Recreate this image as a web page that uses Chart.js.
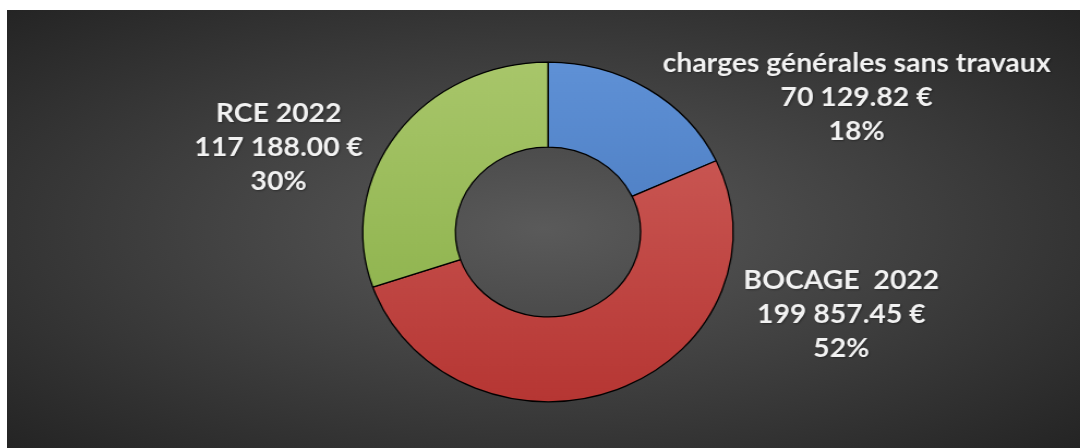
<!DOCTYPE html>
<html>
<head>
<meta charset="utf-8">
<script src="https://cdn.jsdelivr.net/npm/chart.js@4.4.1/dist/chart.umd.min.js"></script>
<style>
  html, body { margin: 0; padding: 0; background: #ffffff; width: 1080px; height: 448px; overflow: hidden; }
  #panel {
    position: absolute; left: 7px; top: 10px; width: 1073px; height: 438px; overflow: hidden;
    background: radial-gradient(ellipse farthest-corner at 50% 50%, #5a5a5a 0%, #474747 35%, #242424 100%);
  }
  #wrap { position: absolute; left: 0; top: 0; width: 984px; height: 438px; transform: scaleX(1.0905); transform-origin: 0 0; }
</style>
</head>
<body>
<div id="panel"><div id="wrap"><canvas id="c" width="984" height="438"></canvas></div></div>
<script>
// ---- data ----
const categories = ["charges générales sans travaux", "BOCAGE  2022", "RCE 2022"];
const amounts = [70129.82, 199857.45, 117188.00];

// ---- styles ----
const topColors = ["#5f91d6", "#d0625e", "#a8c66a"];
const bottomColors = ["#3c6cb0", "#b63633", "#86ad44"];
const labelOffsets = [[283, -134], [269, 83], [-247, -84]]; // label centre relative to donut centre

function fmtEuro(v) {
  const parts = v.toFixed(2).split(".");
  parts[0] = parts[0].replace(/\B(?=(\d{3})+(?!\d))/g, " ");
  return parts[0] + "." + parts[1] + " €";
}

const labelPlugin = {
  id: "donutLabels",
  afterDatasetsDraw(chart) {
    const ctx = chart.ctx;
    const meta = chart.getDatasetMeta(0);
    const data = chart.data.datasets[0].data;
    const total = data.reduce((a, b) => a + b, 0);
    ctx.save();
    ctx.font = "bold 26px Lato";
    ctx.fillStyle = "#f2f2f2";
    ctx.textAlign = "center";
    ctx.textBaseline = "middle";
    ctx.shadowColor = "rgba(0,0,0,0.35)";
    ctx.shadowBlur = 2;
    ctx.shadowOffsetX = 1;
    ctx.shadowOffsetY = 1;
    meta.data.forEach((arc, i) => {
      const cx = arc.x + labelOffsets[i][0];
      const cy = arc.y + labelOffsets[i][1];
      const lines = [chart.data.labels[i], fmtEuro(data[i]), Math.round(data[i] / total * 100) + "%"];
      lines.forEach((t, k) => ctx.fillText(t, cx, cy + (k - 1) * 34));
    });
    ctx.restore();
  }
};

new Chart(document.getElementById("c"), {
  type: "doughnut",
  data: {
    labels: categories,
    datasets: [{
      data: amounts,
      backgroundColor: (c) => {
        const a = c.chart.chartArea;
        const i = c.dataIndex;
        if (!a) return topColors[i];
        const g = c.chart.ctx.createLinearGradient(0, a.top, 0, a.bottom);
        g.addColorStop(0, topColors[i]);
        g.addColorStop(1, bottomColors[i]);
        return g;
      },
      borderColor: "#000000",
      borderWidth: 1.3,
      borderAlign: "center"
    }]
  },
  options: {
    responsive: false,
    animation: false,
    cutout: "50%",
    layout: { padding: { top: 51.5, bottom: 45.5, left: 300, right: 291.8 } },
    plugins: { legend: { display: false }, tooltip: { enabled: false } }
  },
  plugins: [labelPlugin]
});
</script>
</body>
</html>
